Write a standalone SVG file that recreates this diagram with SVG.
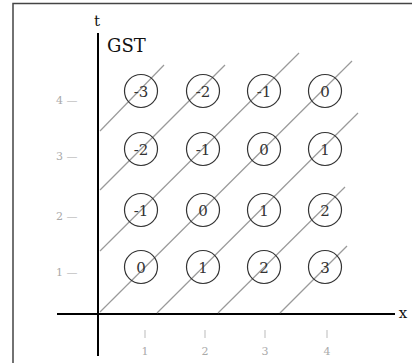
<svg xmlns="http://www.w3.org/2000/svg" width="412" height="363" viewBox="0 0 412 363">
<style>
.frame{fill:none;stroke:#444;stroke-width:1.5}
.axis{stroke:#000;stroke-width:2;fill:none}
.diag{stroke:#9a9a9a;stroke-width:1.2;fill:none}
.node circle{fill:none;stroke:#333;stroke-width:1.2}
.node text{font-family:"DejaVu Serif","Liberation Serif",serif;font-size:15px;fill:#333;text-anchor:middle}
.tick{font-family:"DejaVu Serif","Liberation Serif",serif;font-size:11px;fill:#aaa}
.xt{text-anchor:middle}
.lab{font-family:"DejaVu Serif","Liberation Serif",serif;fill:#111}
</style>
<rect width="412" height="363" fill="#fff"/>
<path class="frame" d="M13,363 V3.5 H412"/>
<g id="axes">
<line class="axis" x1="98" y1="33" x2="98" y2="356"/>
<line class="axis" x1="57" y1="314" x2="395" y2="314"/>
<text class="lab" x="97" y="26" font-size="15" text-anchor="middle">t</text>
<text class="lab" x="403" y="318" font-size="15" text-anchor="middle">x</text>
<text class="lab" x="107" y="52" font-size="18">GST</text>
</g>
<g id="ticks">
<text class="tick" x="56" y="103.5">4 —</text>
<text class="tick" x="56" y="160">3 —</text>
<text class="tick" x="56" y="219.5">2 —</text>
<text class="tick" x="56" y="275.5">1 —</text>
<line x1="145" y1="330" x2="145" y2="338" stroke="#bbb" stroke-width="1"/>
<line x1="205" y1="330" x2="205" y2="338" stroke="#bbb" stroke-width="1"/>
<line x1="265" y1="330" x2="265" y2="338" stroke="#bbb" stroke-width="1"/>
<line x1="327" y1="330" x2="327" y2="338" stroke="#bbb" stroke-width="1"/>
<text class="tick xt" x="145" y="355">1</text>
<text class="tick xt" x="205" y="355">2</text>
<text class="tick xt" x="265" y="355">3</text>
<text class="tick xt" x="327" y="355">4</text>
</g>
<g id="connectors">
<line class="diag" x1="100" y1="131" x2="164" y2="65"/>
<line class="diag" x1="100" y1="190" x2="225" y2="65"/>
<line class="diag" x1="100" y1="251" x2="299" y2="53"/>
<line class="diag" x1="100" y1="312" x2="352" y2="61"/>
<line class="diag" x1="157" y1="313" x2="358" y2="113"/>
<line class="diag" x1="218" y1="313" x2="345" y2="187"/>
<line class="diag" x1="280" y1="313" x2="347" y2="246"/>
</g>
<g id="n-3a" class="node"><circle cx="141" cy="91" r="16.5"/><text x="141" y="96.5">-3</text></g>
<g id="n-2a" class="node"><circle cx="203" cy="91" r="16.5"/><text x="203" y="96.5">-2</text></g>
<g id="n-1a" class="node"><circle cx="264" cy="91" r="16.5"/><text x="264" y="96.5">-1</text></g>
<g id="n0a" class="node"><circle cx="325" cy="91" r="16.5"/><text x="325" y="96.5">0</text></g>
<g id="n-2b" class="node"><circle cx="141" cy="149" r="16.5"/><text x="141" y="154.5">-2</text></g>
<g id="n-1b" class="node"><circle cx="203" cy="149" r="16.5"/><text x="203" y="154.5">-1</text></g>
<g id="n0b" class="node"><circle cx="264" cy="149" r="16.5"/><text x="264" y="154.5">0</text></g>
<g id="n1b" class="node"><circle cx="325" cy="149" r="16.5"/><text x="325" y="154.5">1</text></g>
<g id="n-1c" class="node"><circle cx="141" cy="210" r="16.5"/><text x="141" y="215.5">-1</text></g>
<g id="n0c" class="node"><circle cx="203" cy="210" r="16.5"/><text x="203" y="215.5">0</text></g>
<g id="n1c" class="node"><circle cx="264" cy="210" r="16.5"/><text x="264" y="215.5">1</text></g>
<g id="n2c" class="node"><circle cx="325" cy="210" r="16.5"/><text x="325" y="215.5">2</text></g>
<g id="n0d" class="node"><circle cx="141" cy="267" r="16.5"/><text x="141" y="272.5">0</text></g>
<g id="n1d" class="node"><circle cx="203" cy="267" r="16.5"/><text x="203" y="272.5">1</text></g>
<g id="n2d" class="node"><circle cx="264" cy="267" r="16.5"/><text x="264" y="272.5">2</text></g>
<g id="n3d" class="node"><circle cx="325" cy="267" r="16.5"/><text x="325" y="272.5">3</text></g>
</svg>
